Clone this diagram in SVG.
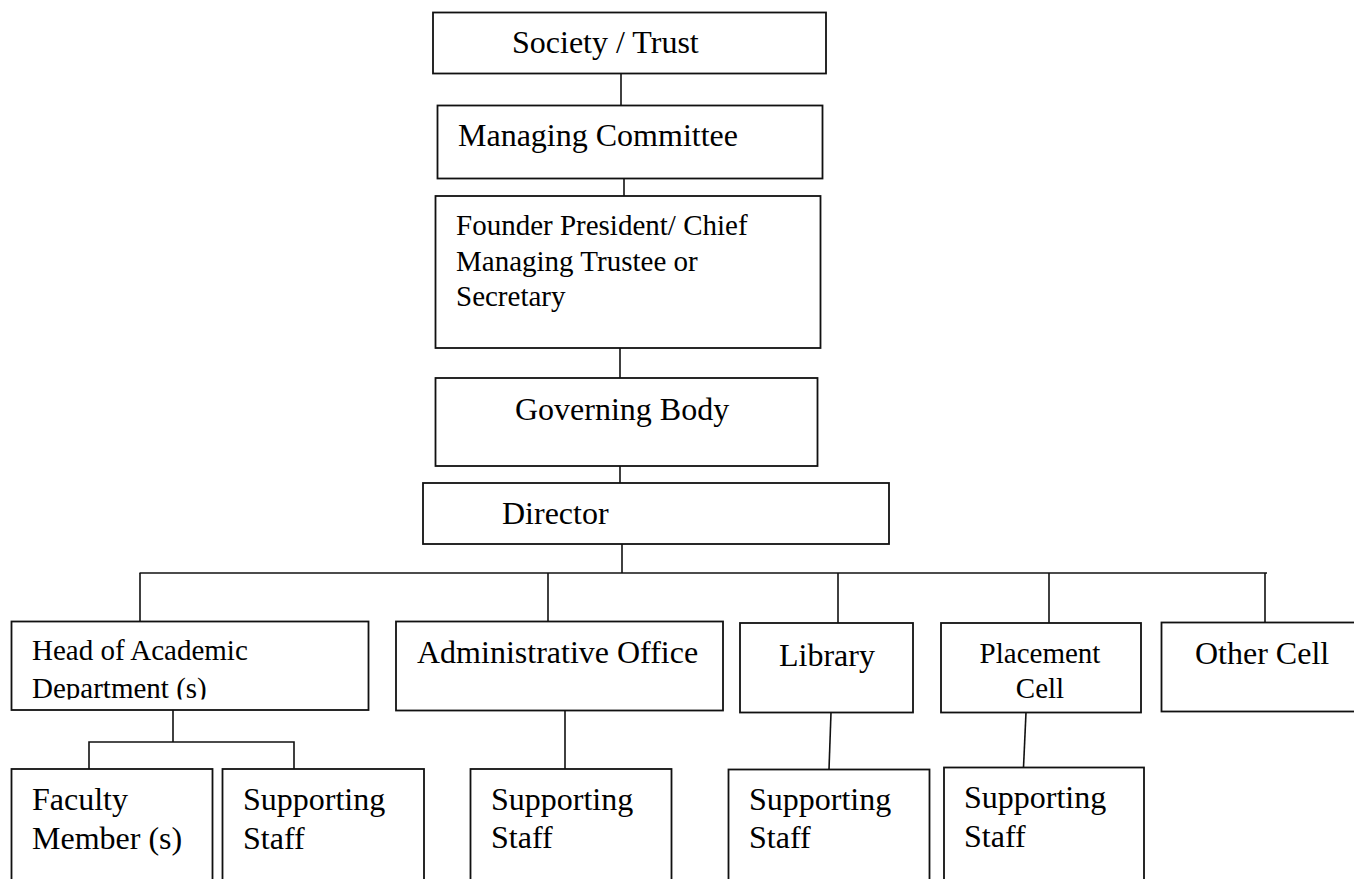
<svg xmlns="http://www.w3.org/2000/svg" width="1354" height="879" viewBox="0 0 1354 879">
<style>
.box{fill:#fff;stroke:#111;stroke-width:1.8}
.ln{stroke:#111;stroke-width:1.6;fill:none}
text{font-family:"Liberation Serif","Times New Roman",serif;fill:#000;font-size:32px}
.sm{font-size:29px}
</style>
<defs>
<clipPath id="headClip"><rect x="11" y="621" width="358" height="78.5"/></clipPath>
</defs>
<rect width="1354" height="879" fill="#fff"/>
<g id="connectors">
<line class="ln" x1="621" y1="73" x2="621" y2="105.5"/>
<line class="ln" x1="624" y1="178.5" x2="624" y2="196"/>
<line class="ln" x1="620" y1="348" x2="620" y2="378"/>
<line class="ln" x1="620" y1="466" x2="620" y2="483"/>
<line class="ln" x1="622" y1="544" x2="622" y2="573"/>
<line class="ln" x1="139.5" y1="573" x2="1267" y2="573"/>
<line class="ln" x1="140" y1="573" x2="140" y2="621.5"/>
<line class="ln" x1="548" y1="573" x2="548" y2="621.5"/>
<line class="ln" x1="838" y1="573" x2="838" y2="623"/>
<line class="ln" x1="1049" y1="573" x2="1049" y2="623"/>
<line class="ln" x1="1265" y1="573" x2="1265" y2="622.5"/>
<line class="ln" x1="173" y1="710" x2="173" y2="742"/>
<polyline class="ln" points="89,769 89,742 294,742 294,769"/>
<line class="ln" x1="565" y1="710.5" x2="565" y2="769"/>
<line class="ln" x1="831" y1="712.5" x2="829" y2="769.5"/>
<line class="ln" x1="1026" y1="712.5" x2="1023.5" y2="767.5"/>
</g>
<g id="society">
<rect class="box" x="433" y="12.5" width="393" height="61"/>
<text x="512" y="53" font-size="31.5">Society / Trust</text>
</g>
<g id="managing">
<rect class="box" x="437.5" y="105.5" width="385" height="73"/>
<text x="458" y="146">Managing Committee</text>
</g>
<g id="founder">
<rect class="box" x="435.5" y="196" width="385" height="152"/>
<text class="sm" x="456" y="235">Founder President/ Chief</text>
<text class="sm" x="456" y="271">Managing Trustee or</text>
<text class="sm" x="456" y="306">Secretary</text>
</g>
<g id="governing">
<rect class="box" x="435.5" y="378" width="382" height="88"/>
<text x="515" y="420">Governing Body</text>
</g>
<g id="director">
<rect class="box" x="423" y="483" width="466" height="61"/>
<text x="502" y="524">Director</text>
</g>
<g id="head">
<rect class="box" x="11.5" y="621.5" width="357" height="88.5"/>
<g clip-path="url(#headClip)">
<text class="sm" x="32" y="660">Head of Academic</text>
<text class="sm" x="32" y="698">Department (s)</text>
</g>
</g>
<g id="admin">
<rect class="box" x="396" y="621.5" width="327" height="89"/>
<text x="417" y="663">Administrative Office</text>
</g>
<g id="library">
<rect class="box" x="740" y="623" width="173" height="89.5"/>
<text x="779" y="666">Library</text>
</g>
<g id="placement">
<rect class="box" x="941" y="623" width="200" height="89.5"/>
<text class="sm" x="1040" y="663" text-anchor="middle">Placement</text>
<text class="sm" x="1040" y="698" text-anchor="middle">Cell</text>
</g>
<g id="other">
<rect class="box" x="1161.5" y="622.5" width="220" height="89"/>
<text x="1195" y="664">Other Cell</text>
</g>
<g id="faculty">
<rect class="box" x="11.5" y="769" width="201" height="130"/>
<text x="32" y="810">Faculty</text>
<text x="32" y="849">Member (s)</text>
</g>
<g id="staff-academic">
<rect class="box" x="222.5" y="769" width="201.5" height="130"/>
<text x="243" y="810">Supporting</text>
<text x="243" y="849">Staff</text>
</g>
<g id="staff-admin">
<rect class="box" x="470.5" y="769" width="201" height="130"/>
<text x="491" y="810">Supporting</text>
<text x="491" y="848">Staff</text>
</g>
<g id="staff-library">
<rect class="box" x="728.5" y="769.5" width="201" height="130"/>
<text x="749" y="810">Supporting</text>
<text x="749" y="848">Staff</text>
</g>
<g id="staff-placement">
<rect class="box" x="944" y="767.5" width="200" height="130"/>
<text x="964" y="808">Supporting</text>
<text x="964" y="847">Staff</text>
</g>
</svg>
